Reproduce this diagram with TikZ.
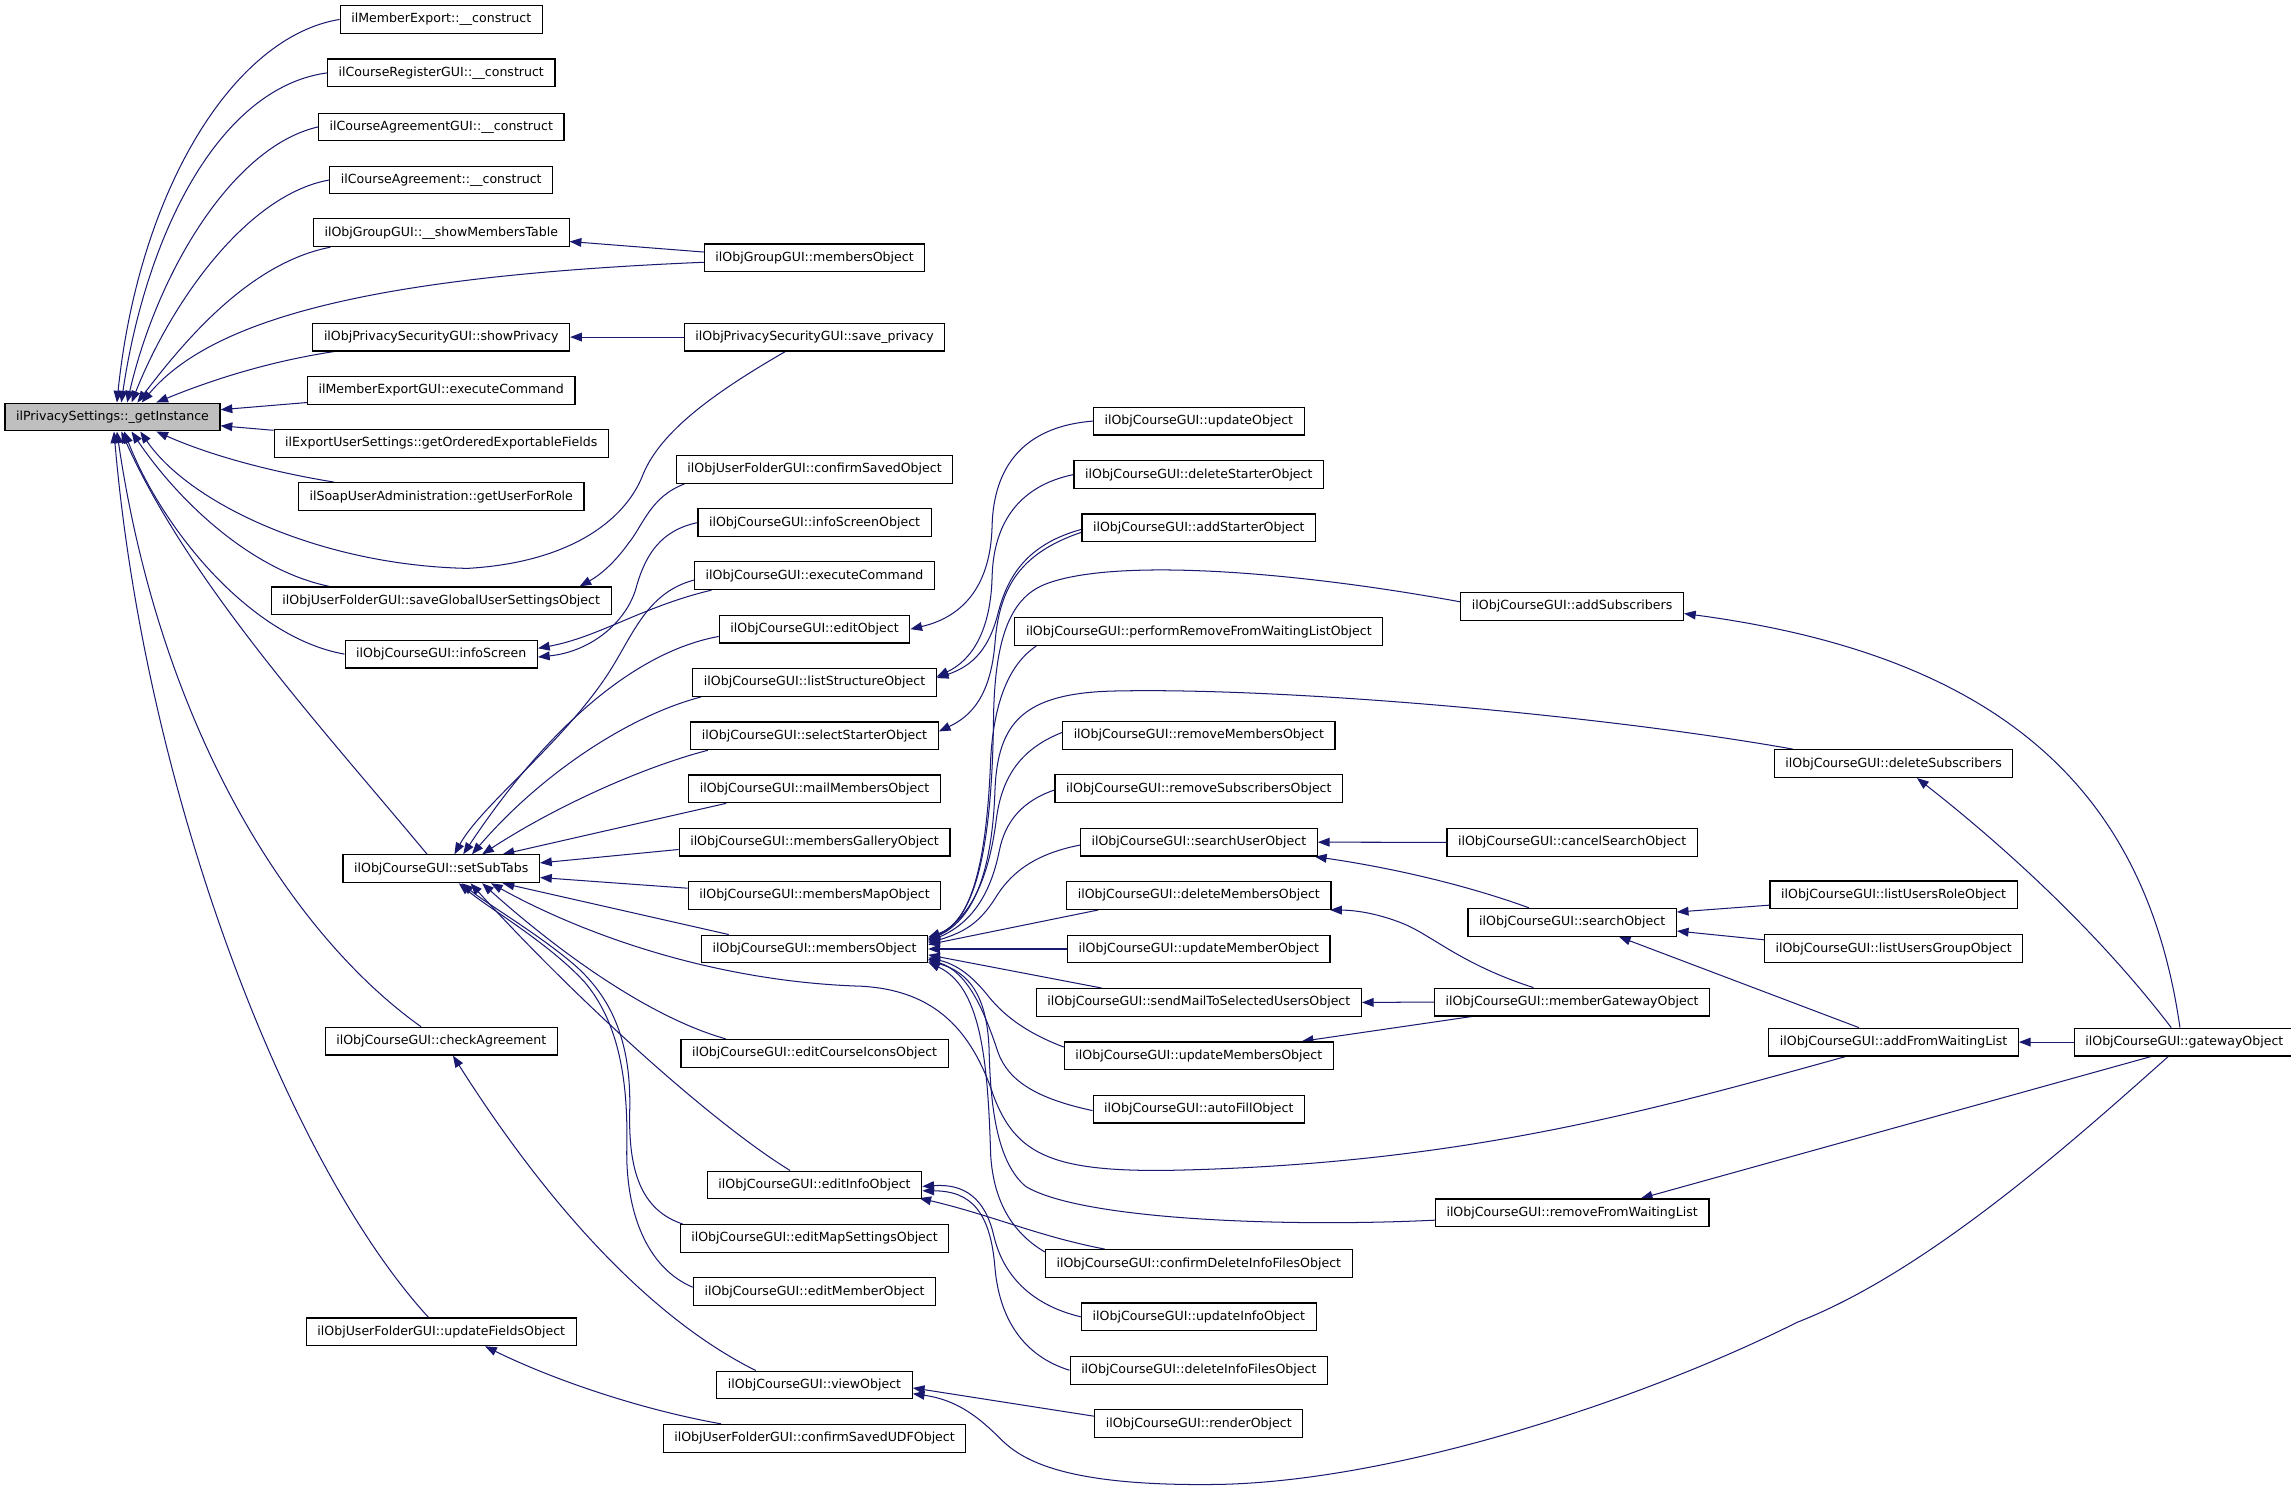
\documentclass[tikz,border=0pt]{standalone}
\usepackage{fontspec}
\setmainfont{DejaVu Sans}
\usetikzlibrary{arrows.meta,calc}
\definecolor{edgecol}{HTML}{191970}
\definecolor{rootfill}{HTML}{BFBFBF}
\pgfdeclarelayer{bg}
\pgfsetlayers{bg,main}
\tikzset{
  fbox/.style={draw=black, line width=0.8pt, fill=white, minimum height=19pt, inner xsep=7.6pt, inner ysep=0pt, font=\fontsize{8.6pt}{10pt}\selectfont, anchor=center},
  rootbox/.style={fbox, fill=rootfill},
  call/.style={draw=edgecol, line width=0.7pt, -{Triangle[length=8pt,width=6pt]}}
}
\begin{document}
\begin{tikzpicture}[x=1pt,y=-1pt]
\useasboundingbox (0,0) rectangle (1568,1020);
% root
\node[rootbox] (gi) at (77,285.4) {ilPrivacySettings::\_getInstance};
% column 2
\node[fbox] (me)  at (302,13.3)  {ilMemberExport::\_\_construct};
\node[fbox] (crg) at (302,49.9)  {ilCourseRegisterGUI::\_\_construct};
\node[fbox] (cag) at (302,86.9)  {ilCourseAgreementGUI::\_\_construct};
\node[fbox] (ca)  at (302,123.2) {ilCourseAgreement::\_\_construct};
\node[fbox] (gsm) at (302,159.3) {ilObjGroupGUI::\_\_showMembersTable};
\node[fbox] (psp) at (302,230.7) {ilObjPrivacySecurityGUI::showPrivacy};
\node[fbox] (mec) at (302,267.1) {ilMemberExportGUI::executeCommand};
\node[fbox] (eus) at (302,303.4) {ilExportUserSettings::getOrderedExportableFields};
\node[fbox] (sua) at (302,339.9) {ilSoapUserAdministration::getUserForRole};
\node[fbox] (sgu) at (302,411.2) {ilObjUserFolderGUI::saveGlobalUserSettingsObject};
\node[fbox] (is)  at (302,447.7) {ilObjCourseGUI::infoScreen};
\node[fbox] (sst) at (302,594.6) {ilObjCourseGUI::setSubTabs};
\node[fbox] (chk) at (302,712.6) {ilObjCourseGUI::checkAgreement};
\node[fbox] (ufo) at (302,911.5) {ilObjUserFolderGUI::updateFieldsObject};
% column 3
\node[fbox] (gmo) at (557.5,176.5) {ilObjGroupGUI::membersObject};
\node[fbox] (psv) at (557.5,230.7) {ilObjPrivacySecurityGUI::save\_privacy};
\node[fbox] (csv) at (557.5,321.3) {ilObjUserFolderGUI::confirmSavedObject};
\node[fbox] (iso) at (557.5,357.7) {ilObjCourseGUI::infoScreenObject};
\node[fbox] (exc) at (557.5,394.0) {ilObjCourseGUI::executeCommand};
\node[fbox] (edo) at (557.5,430.6) {ilObjCourseGUI::editObject};
\node[fbox] (lso) at (557.5,467.1) {ilObjCourseGUI::listStructureObject};
\node[fbox] (sso) at (557.5,503.6) {ilObjCourseGUI::selectStarterObject};
\node[fbox] (mmo) at (557.5,539.9) {ilObjCourseGUI::mailMembersObject};
\node[fbox] (mgo) at (557.5,576.4) {ilObjCourseGUI::membersGalleryObject};
\node[fbox] (mpo) at (557.5,612.9) {ilObjCourseGUI::membersMapObject};
\node[fbox] (mo)  at (557.5,649.5) {ilObjCourseGUI::membersObject};
\node[fbox] (eci) at (557.5,720.9) {ilObjCourseGUI::editCourseIconsObject};
\node[fbox] (eio) at (557.5,811.0) {ilObjCourseGUI::editInfoObject};
\node[fbox] (ems) at (557.5,847.6) {ilObjCourseGUI::editMapSettingsObject};
\node[fbox] (emo) at (557.5,884.0) {ilObjCourseGUI::editMemberObject};
\node[fbox] (vo)  at (557.5,947.9) {ilObjCourseGUI::viewObject};
\node[fbox] (csu) at (557.5,984.4) {ilObjUserFolderGUI::confirmSavedUDFObject};
% column 4
\node[fbox] (uo)  at (820.5,288.2) {ilObjCourseGUI::updateObject};
\node[fbox] (dso) at (820.5,324.8) {ilObjCourseGUI::deleteStarterObject};
\node[fbox] (aso) at (820.5,361.3) {ilObjCourseGUI::addStarterObject};
\node[fbox] (prw) at (820.5,432.3) {ilObjCourseGUI::performRemoveFromWaitingListObject};
\node[fbox] (rmo) at (820.5,503.3) {ilObjCourseGUI::removeMembersObject};
\node[fbox] (rso) at (820.5,539.7) {ilObjCourseGUI::removeSubscribersObject};
\node[fbox] (suo) at (820.5,576.4) {ilObjCourseGUI::searchUserObject};
\node[fbox] (dmo) at (820.5,612.9) {ilObjCourseGUI::deleteMembersObject};
\node[fbox] (umo) at (820.5,649.5) {ilObjCourseGUI::updateMemberObject};
\node[fbox] (sms) at (820.5,686.1) {ilObjCourseGUI::sendMailToSelectedUsersObject};
\node[fbox] (ums) at (820.5,722.6) {ilObjCourseGUI::updateMembersObject};
\node[fbox] (afo) at (820.5,759.1) {ilObjCourseGUI::autoFillObject};
\node[fbox] (cdi) at (820.5,864.8) {ilObjCourseGUI::confirmDeleteInfoFilesObject};
\node[fbox] (uio) at (820.5,901.3) {ilObjCourseGUI::updateInfoObject};
\node[fbox] (dio) at (820.5,937.8) {ilObjCourseGUI::deleteInfoFilesObject};
\node[fbox] (ro)  at (820.5,974.3) {ilObjCourseGUI::renderObject};
% column 5
\node[fbox] (as)  at (1076,414.9) {ilObjCourseGUI::addSubscribers};
\node[fbox] (cso) at (1076,576.5) {ilObjCourseGUI::cancelSearchObject};
\node[fbox] (so)  at (1076,631.2) {ilObjCourseGUI::searchObject};
\node[fbox] (mgw) at (1076,685.8) {ilObjCourseGUI::memberGatewayObject};
\node[fbox] (rfw) at (1076,830.1) {ilObjCourseGUI::removeFromWaitingList};
% column 6
\node[fbox] (ds)  at (1296,522.6) {ilObjCourseGUI::deleteSubscribers};
\node[fbox] (lur) at (1296,612.5) {ilObjCourseGUI::listUsersRoleObject};
\node[fbox] (lug) at (1296,649.2) {ilObjCourseGUI::listUsersGroupObject};
\node[fbox] (afw) at (1296,713.2) {ilObjCourseGUI::addFromWaitingList};
% column 7
\node[fbox] (gw)  at (1495,713.2) {ilObjCourseGUI::gatewayObject};

\begin{pgfonlayer}{bg}
\fill[white] (0,0) rectangle (1568,1020);
% into _getInstance
\draw[call] (me.west) .. controls (160,25) and (95,130) .. ($(gi.north)+(3,0)$);
\draw[call] (crg.west) .. controls (150,60) and (100,160) .. ($(gi.north)+(6,0)$);
\draw[call] (cag.west) .. controls (160,100) and (108,185) .. ($(gi.north)+(10,0)$);
\draw[call] (ca.west) .. controls (170,133) and (118,205) .. ($(gi.north)+(13,0)$);
\draw[call] ($(gsm.south west)+(12,0)$) .. controls (170,180) and (125,235) .. ($(gi.north)+(17,0)$);
\draw[call] ($(gmo.west)+(0,3)$) .. controls (280,188) and (150,212) .. ($(gi.north)+(20,0)$);
\draw[call] ($(psp.south west)+(15,0)$) .. controls (180,248) and (140,262) .. ($(gi.north)+(30,0)$);
\draw[call] ($(mec.south west)+(0,-1.5)$) -- ($(gi.east)+(0,-5)$);
\draw[call] ($(eus.north west)+(0,1)$) -- ($(gi.east)+(0,6)$);
\draw[call] ($(sua.north west)+(25,0)$) .. controls (180,322) and (140,310) .. ($(gi.south)+(30,0)$);
\draw[call] ($(psv.south)+(-20,0)$) .. controls (490,268) and (452,295) .. (440,325) .. controls (428,356) and (390,385) .. (320,389) .. controls (220,387) and (130,345) .. ($(gi.south)+(19,0)$);
\draw[call] ($(sgu.north west)+(40,0)$) .. controls (170,390) and (120,340) .. ($(gi.south)+(13,0)$);
\draw[call] (is.west) .. controls (170,436) and (110,360) .. ($(gi.south)+(8,0)$);
\draw[call] ($(sst.north west)+(58,0)$) .. controls (222,500) and (130,400) .. ($(gi.south)+(6,0)$);
\draw[call] ($(chk.north west)+(66,0)$) .. controls (200,640) and (110,500) .. ($(gi.south)+(3,0)$);
\draw[call] ($(ufo.north west)+(84,0)$) .. controls (200,800) and (100,550) .. ($(gi.south)+(1,0)$);
% column 2 callers
\draw[call] ($(gmo.west)+(0,-4)$) -- ($(gsm.east)+(0,6)$);
\draw[call] (psv.west) -- (psp.east);
\draw[call] ($(csv.south west)+(6,0)$) .. controls (445,340) and (440,360) .. (430,372) .. controls (420,386) and (410,394) .. ($(sgu.north east)+(-22,0)$);
\draw[call] ($(exc.south west)+(12,0)$) .. controls (440,415) and (410,436) .. ($(is.east)+(0,-4)$);
\draw[call] (iso.west) .. controls (452,363) and (442,380) .. (436,400) .. controls (430,425) and (405,446) .. ($(is.east)+(0,2)$);
% setSubTabs callers
\draw[call] ($(exc.west)+(0,3)$) .. controls (445,405) and (435,430) .. (420,455) .. controls (390,505) and (330,550) .. ($(sst.north)+(9,0)$);
\draw[call] ($(edo.west)+(0,5)$) .. controls (440,445) and (380,490) .. ($(sst.north)+(15,0)$);
\draw[call] ($(lso.south west)+(6,0)$) .. controls (430,490) and (370,530) .. ($(sst.north)+(21,0)$);
\draw[call] ($(sso.south west)+(12,0)$) .. controls (440,525) and (380,552) .. ($(sst.north)+(28,0)$);
\draw[call] ($(mmo.south west)+(26,0)$) -- ($(sst.north)+(42,0)$);
\draw[call] ($(mgo.west)+(0,5)$) -- ($(sst.east)+(0,-4)$);
\draw[call] ($(mpo.west)+(0,-5)$) -- ($(sst.east)+(0,6)$);
\draw[call] ($(mo.north west)+(19,0)$) -- ($(sst.south)+(42,0)$);
\draw[call] ($(eci.north west)+(31,0)$) .. controls (440,695) and (375,645) .. ($(sst.south)+(28,0)$);
\draw[call] ($(eio.north west)+(57,0)$) .. controls (490,770) and (400,690) .. ($(sst.south)+(20,0)$);
\draw[call] ($(ems.north west)+(2,0)$) .. controls (438,828) and (430,800) .. (431,760) .. controls (432,715) and (420,685) .. (395,662) .. controls (370,640) and (335,620) .. ($(sst.south)+(14,0)$);
\draw[call] ($(emo.west)+(0,-3)$) .. controls (443,868) and (428,830) .. (429,785) .. controls (430,735) and (422,698) .. (400,672) .. controls (375,645) and (335,622) .. ($(sst.south)+(12,0)$);
\draw[call] ($(afw.south west)+(53,0)$) .. controls (1130,760) and (1000,797) .. (800,801) .. controls (720,802) and (695,790) .. (680,750) .. controls (665,705) and (640,678) .. (590,675) .. controls (490,672) and (400,640) .. ($(sst.south)+(34,0)$);
% checkAgreement, updateFieldsObject
\draw[call] ($(vo.north west)+(27,0)$) .. controls (445,902) and (375,825) .. ($(chk.south)+(8,0)$);
\draw[call] ($(csu.north west)+(40,0)$) .. controls (440,965) and (380,945) .. ($(ufo.south)+(30,0)$);
% editObject, listStructureObject, selectStarterObject
\draw[call] (uo.west) .. controls (700,292) and (680,320) .. (679,360) .. controls (678,400) and (660,422) .. (edo.east);
\draw[call] (dso.west) .. controls (700,332) and (680,355) .. (679,395) .. controls (678,432) and (665,452) .. ($(lso.east)+(0,-4)$);
\draw[call] ($(aso.west)+(0,1)$) .. controls (705,372) and (690,392) .. (683,420) .. controls (676,448) and (662,457) .. ($(lso.east)+(0,-3)$);
\draw[call] ($(aso.west)+(0,3)$) .. controls (700,378) and (684,400) .. (681,440) .. controls (678,476) and (665,490) .. ($(sso.east)+(0,-3)$);
% membersObject callers
\draw[call] ($(prw.south west)+(15,0)$) .. controls (690,455) and (680,482) .. (678,520) .. controls (675,600) and (662,632) .. ($(mo.east)+(0,-8)$);
\draw[call] ($(as.west)+(0,-3)$) .. controls (880,390) and (760,382) .. (715,400) .. controls (690,410) and (681,440) .. (680,490) .. controls (679,590) and (665,630) .. ($(mo.east)+(0,-7)$);
\draw[call] ($(ds.north west)+(13,0)$) .. controls (1100,490) and (880,470) .. (760,473) .. controls (700,475) and (683,495) .. (681,540) .. controls (679,600) and (665,630) .. ($(mo.east)+(0,-6)$);
\draw[call] ($(rmo.west)+(0,-2)$) .. controls (700,512) and (686,530) .. (682,560) .. controls (677,600) and (665,628) .. ($(mo.east)+(0,-6)$);
\draw[call] ($(rso.west)+(0,1)$) .. controls (700,548) and (688,562) .. (684,582) .. controls (678,612) and (665,632) .. ($(mo.east)+(0,-5)$);
\draw[call] ($(suo.west)+(0,2)$) .. controls (705,585) and (690,600) .. (681,615) .. controls (670,632) and (660,638) .. ($(mo.east)+(0,-4)$);
\draw[call] ($(dmo.south west)+(22,0)$) -- ($(mo.east)+(0,-3)$);
\draw[call] (umo.west) -- (mo.east);
\draw[call] ($(sms.north west)+(45,0)$) -- ($(mo.east)+(0,4)$);
\draw[call] ($(ums.west)+(0,-6)$) .. controls (700,706) and (685,693) .. (675,680) .. controls (665,668) and (655,660) .. ($(mo.east)+(0,6)$);
\draw[call] ($(afo.west)+(0,1)$) .. controls (710,752) and (690,740) .. (683,720) .. controls (673,690) and (662,665) .. ($(mo.east)+(0,7)$);
\draw[call] ($(rfw.west)+(0,5)$) .. controls (880,840) and (740,835) .. (702,812) .. controls (683,796) and (678,760) .. (677,720) .. controls (676,680) and (662,665) .. ($(mo.east)+(0,8)$);
\draw[call] ($(cdi.north west)+(0,2)$) .. controls (695,845) and (680,825) .. (678,790) .. controls (676,720) and (670,675) .. ($(mo.east)+(0,9)$);
% editInfoObject callers
\draw[call] ($(cdi.north west)+(41,0)$) .. controls (710,846) and (680,832) .. ($(eio.east)+(-2,9)$);
\draw[call] (uio.west) .. controls (705,893) and (686,872) .. (680,845) .. controls (674,820) and (660,810) .. ($(eio.east)+(0,1)$);
\draw[call] (dio.west) .. controls (700,928) and (684,902) .. (681,868) .. controls (678,830) and (665,815) .. ($(eio.east)+(0,4)$);
% viewObject callers
\draw[call] ($(ro.west)+(0,-5)$) -- ($(vo.east)+(0,2)$);
\draw[call] ($(gw.south)+(-11,0)$) .. controls (1420,780) and (1320,870) .. (1230,905) .. controls (1120,960) and (950,1015) .. (830,1016) .. controls (730,1017) and (700,1000) .. (685,985) .. controls (670,970) and (655,958) .. ($(vo.east)+(0,6)$);
% searchUserObject etc.
\draw[call] (cso.west) -- (suo.east);
\draw[call] ($(so.north west)+(42,0)$) .. controls (1010,608) and (960,595) .. ($(suo.south east)+(-2,0)$);
\draw[call] ($(mgw.north west)+(68,0)$) .. controls (1000,660) and (980,640) .. (960,632) .. controls (945,626) and (930,623) .. ($(dmo.south east)+(-1,0)$);
\draw[call] (mgw.west) -- (sms.east);
\draw[call] ($(mgw.south west)+(26,0)$) -- ($(ums.north east)+(-22,0)$);
% gatewayObject
\draw[call] ($(gw.north)+(-3,0)$) .. controls (1470,550) and (1380,450) .. ($(as.east)+(0,5)$);
\draw[call] ($(gw.north)+(-9,0)$) .. controls (1430,630) and (1360,570) .. ($(ds.south)+(16,0)$);
\draw[call] (gw.west) -- (afw.east);
\draw[call] ($(gw.south west)+(53,0)$) -- ($(rfw.north)+(47,0)$);
% searchObject callers
\draw[call] ($(lur.west)+(0,7)$) -- ($(so.east)+(0,-7)$);
\draw[call] ($(lug.west)+(0,-6)$) -- ($(so.east)+(0,6)$);
\draw[call] ($(afw.north west)+(62,0)$) -- ($(so.south)+(32,0)$);
\end{pgfonlayer}
\end{tikzpicture}
\end{document}
